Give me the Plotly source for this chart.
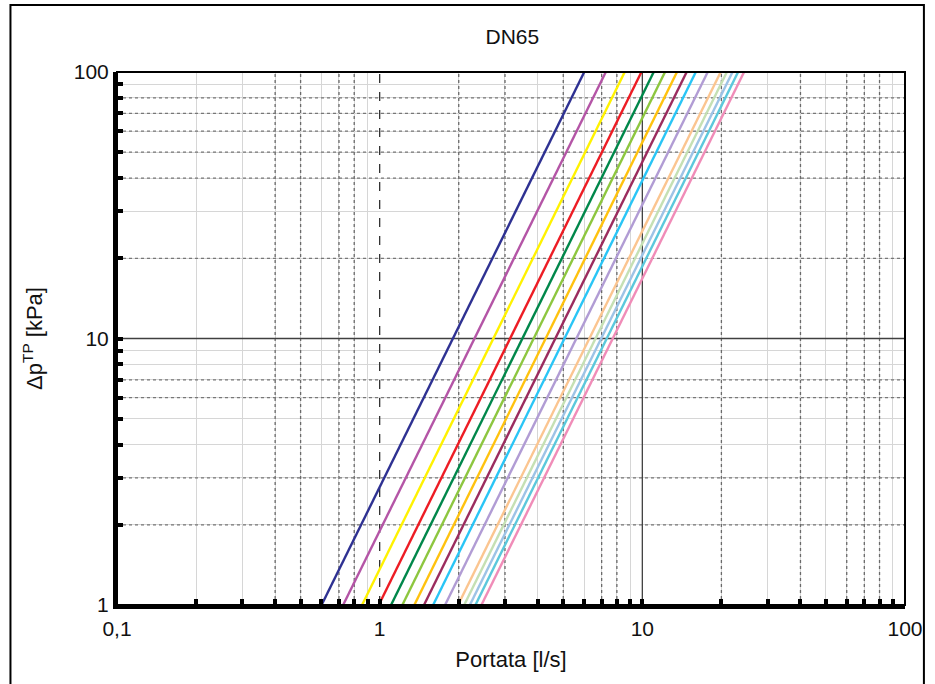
import plotly.graph_objects as go

# ---- data ----
title_text = "DN65"
x_title = "Portata [l/s]"
y_title = "Δp<sup>TP</sup> [kPa]"

# flow (l/s) of each curve at Δp = 1 kPa and at Δp = 100 kPa
q_at_1kpa = [0.601, 0.726, 0.857, 0.992, 1.105, 1.22, 1.355, 1.475, 1.598,
             1.774, 1.988, 2.098, 2.205, 2.315, 2.44]
q_at_100kpa = [6.01, 7.26, 8.57, 9.92, 11.05, 12.2, 13.55, 14.75, 15.98,
               17.74, 19.88, 20.98, 22.05, 23.15, 24.4]
dp_ends = [1, 100]

curve_colors = ["#2E3192", "#B455A6", "#FFF200", "#ED1C24", "#00874A",
                "#8DC63F", "#FFC20E", "#9B2C5E", "#29C5F6", "#B19CD4",
                "#FBC590", "#C5E0B4", "#9DC3E6", "#5BC8DC", "#F08CB8"]

x_tickvals = [0.1, 1, 10, 100]
x_ticktext = ["0,1", "1", "10", "100"]
y_tickvals = [1, 10, 100]
y_ticktext = ["1", "10", "100"]

x_minor = [m * d for d in (0.1, 1, 10) for m in range(2, 10)]
y_minor = [m * d for d in (1, 10) for m in range(2, 10)]

# darker dotted grid lines seen in the reference
x_dark_grid = [0.4, 0.5, 0.7, 0.8, 2, 3, 5, 7, 8, 20, 40, 60, 70, 80]
y_dark_grid = [2, 3, 6, 7, 20, 40, 50, 60, 70, 80]

fig = go.Figure()


def vlines(xs):
    xx, yy = [], []
    for v in xs:
        xx += [v, v, None]
        yy += [1, 100, None]
    return xx, yy


def hlines(ys):
    xx, yy = [], []
    for v in ys:
        xx += [0.1, 100, None]
        yy += [v, v, None]
    return xx, yy


grid_style = dict(mode="lines", hoverinfo="skip", showlegend=False)

gx, gy = vlines(x_dark_grid)
fig.add_trace(go.Scatter(x=gx, y=gy, line=dict(color="#6a6a6a", width=1.3, dash="dot"), **grid_style))
gx, gy = hlines(y_dark_grid)
fig.add_trace(go.Scatter(x=gx, y=gy, line=dict(color="#777777", width=1.3, dash="dot"), **grid_style))
gx, gy = vlines([10])
fig.add_trace(go.Scatter(x=gx, y=gy, line=dict(color="#404040", width=1.3), **grid_style))
gx, gy = hlines([10])
fig.add_trace(go.Scatter(x=gx, y=gy, line=dict(color="#404040", width=1.3), **grid_style))
gx, gy = vlines([1])
fig.add_trace(go.Scatter(x=gx, y=gy, line=dict(color="#303030", width=1.3, dash="dash"), **grid_style))

for i, c in enumerate(curve_colors):
    fig.add_trace(go.Scatter(
        x=[q_at_1kpa[i], q_at_100kpa[i]], y=dp_ends, mode="lines",
        line=dict(color=c, width=2.4), showlegend=False, hoverinfo="skip"))

FONT = "Liberation Sans, Arial, sans-serif"

fig.update_layout(
    width=935, height=684,
    margin=dict(l=117, r=26, t=72, b=79),
    paper_bgcolor="white", plot_bgcolor="white",
    font=dict(family=FONT, size=21, color="#111111"),
    title=dict(text=title_text, x=0.548, xanchor="center", y=0.946, yanchor="middle",
               font=dict(family=FONT, size=21, color="#111111")),
    showlegend=False,
)

fig.update_xaxes(
    type="log", range=[-1, 2],
    tickvals=x_tickvals, ticktext=x_ticktext,
    tickfont=dict(family=FONT, size=21, color="#111111"),
    showgrid=False, zeroline=False,
    showline=True, linecolor="black", linewidth=4,
    ticks="inside", ticklen=6, tickwidth=4, tickcolor="black",
    ticklabelstandoff=2,
    minor=dict(tickvals=x_minor, ticks="inside", ticklen=6, tickwidth=4, tickcolor="black",
               showgrid=True, gridcolor="#d6d6d6", gridwidth=1),
    title=dict(text=x_title, standoff=13, font=dict(family=FONT, size=22, color="#111111")),
)
fig.update_yaxes(
    type="log", range=[0, 2],
    tickvals=y_tickvals, ticktext=y_ticktext,
    tickfont=dict(family=FONT, size=21, color="#111111"),
    showgrid=False, zeroline=False,
    showline=True, linecolor="black", linewidth=4,
    ticks="inside", ticklen=6, tickwidth=4, tickcolor="black",
    ticklabelstandoff=0,
    minor=dict(tickvals=y_minor, ticks="inside", ticklen=6, tickwidth=4, tickcolor="black",
               showgrid=True, gridcolor="#d6d6d6", gridwidth=1),
    title=dict(text=y_title, standoff=26, font=dict(family=FONT, size=22, color="#111111")),
)

# plot-area frame (top/right) and outer chart border
fig.add_shape(type="rect", xref="paper", yref="paper", x0=0, x1=1, y0=0, y1=1,
              line=dict(color="black", width=2), layer="above")
fig.add_shape(type="rect", xref="paper", yref="paper",
              x0=-0.1352, x1=1.0240, y0=-0.3, y1=1.1257,
              line=dict(color="black", width=2), layer="above")

fig.write_html("out.html", config={"displayModeBar": False},
               post_script="document.body.style.margin='0px';")
